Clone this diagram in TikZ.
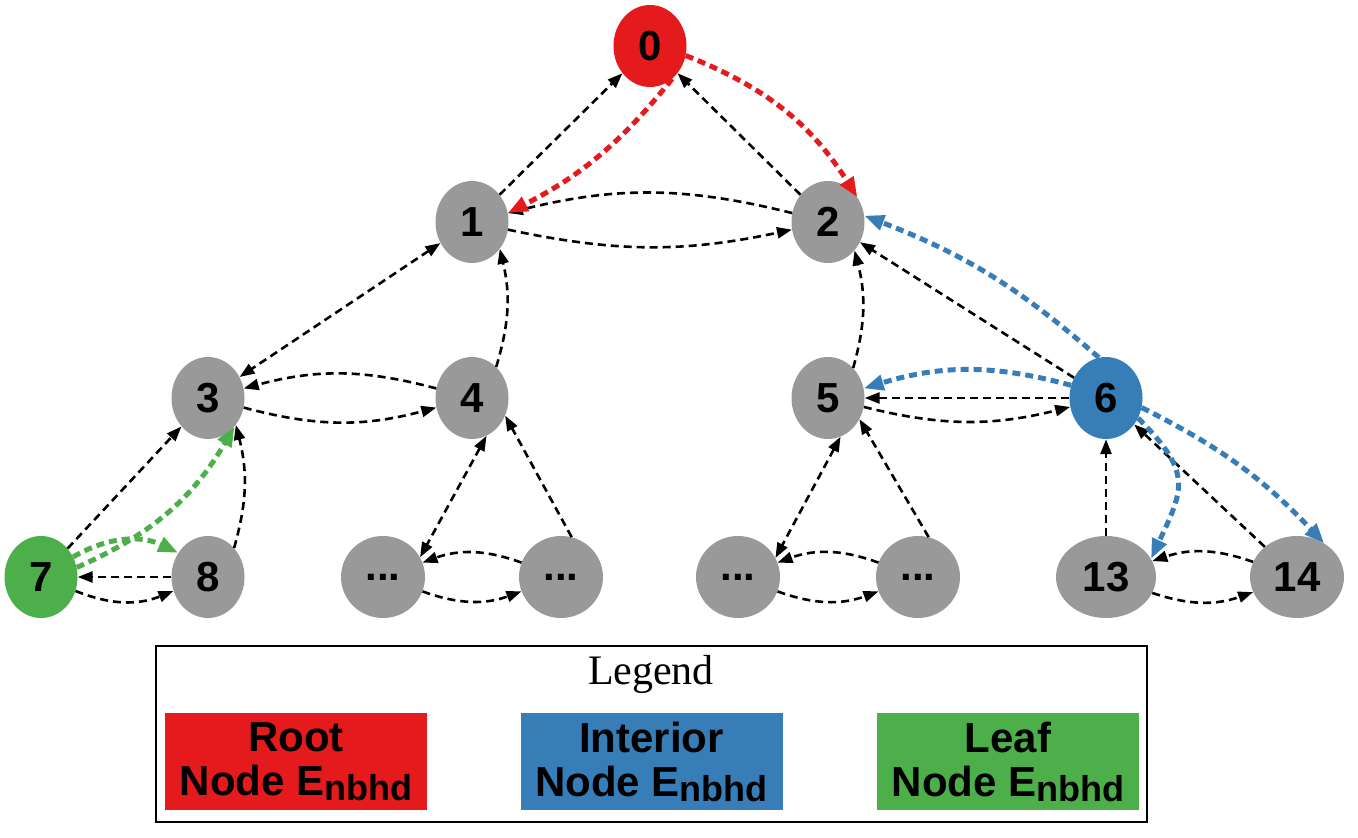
\documentclass[tikz,border=0pt]{standalone}
\usepackage{fontspec}
\setmainfont{Liberation Sans}
\newfontfamily\legendserif{Liberation Serif}
\usetikzlibrary{shapes.geometric, arrows.meta}
\definecolor{nbhdred}{HTML}{E41A1C}
\definecolor{nbhdblue}{HTML}{377EB8}
\definecolor{nbhdgreen}{HTML}{4DAF4A}
\definecolor{nbhdgray}{HTML}{999999}
\newcommand{\nbhdsub}{\raisebox{-5pt}{\fontsize{36}{36}\selectfont nbhd}}
\tikzstyle{treenode} = [ellipse, minimum width=73pt, minimum height=82pt, inner sep=0pt, fill=nbhdgray, font=\fontsize{42}{46}\selectfont\bfseries]
\tikzstyle{rootnode} = [treenode, fill=nbhdred]
\tikzstyle{interiornode} = [treenode, fill=nbhdblue]
\tikzstyle{leafnode} = [treenode, fill=nbhdgreen]
\tikzstyle{legendkey} = [rectangle, minimum width=262pt, minimum height=97pt, inner sep=0pt, align=center, font=\fontsize{42}{44}\selectfont\bfseries]
\tikzstyle{linkarrow} = [line width=2.6pt, dash pattern=on 8pt off 5pt, -{Triangle[length=15pt,width=11pt]}]
\tikzstyle{linkboth} = [linkarrow, {Triangle[length=15pt,width=11pt]}-{Triangle[length=15pt,width=11pt]}]
\tikzstyle{nbhdarrow} = [line width=5pt, dash pattern=on 8pt off 5pt, -{Triangle[length=20pt,width=15pt]}]

\begin{document}
\begin{tikzpicture}[x=1pt, y=1pt]
        \useasboundingbox (0,0) rectangle (1358,-838);
        % Tree nodes
        \node[rootnode] (n0) at (650,-46) {0};
        \node[treenode] (n1) at (472,-222) {1};
        \node[treenode] (n2) at (828,-222) {2};
        \node[treenode] (n3) at (208,-398) {3};
        \node[treenode] (n4) at (472,-398) {4};
        \node[treenode] (n5) at (828,-398) {5};
        \node[interiornode] (n6) at (1106,-398) {6};
        \node[leafnode] (n7) at (41,-577) {7};
        \node[treenode] (n8) at (208,-577) {8};
        \node[treenode, minimum width=84pt] (d1) at (383,-577) {...};
        \node[treenode, minimum width=84pt] (d2) at (561,-577) {...};
        \node[treenode, minimum width=84pt] (d3) at (738,-577) {...};
        \node[treenode, minimum width=84pt] (d4) at (918,-577) {...};
        \node[treenode, minimum width=100pt] (n13) at (1106,-577) {13};
        \node[treenode, minimum width=94pt] (n14) at (1297,-577) {14};

        % Tree links
        \draw[linkarrow] (n1) -- (n0);
        \draw[linkarrow] (n2) -- (n0);
        \draw[linkarrow] (n2) to[bend right=14] (n1);
        \draw[linkarrow] (n1) to[bend right=12] (n2);
        \draw[linkboth] (n1) -- (n3);
        \draw[linkarrow] (n4.52) to[bend right=15] (n1.-44);
        \draw[linkarrow] (n4) to[bend right=15] (n3);
        \draw[linkarrow] (n3) to[bend right=15] (n4);
        \draw[linkarrow] (n7) -- (n3);
        \draw[linkarrow] (n8.48) to[bend right=15] (n3.-44);
        \draw[linkarrow] (n8) -- (n7);
        \draw[linkarrow] (n7) to[bend right=22] (n8);
        \draw[linkboth] (n4.-69) -- (d1.28);
        \draw[linkarrow] (d2.75) -- (n4.-28);
        \draw[linkarrow] (d2) to[bend right=20] (d1);
        \draw[linkarrow] (d1) to[bend right=20] (d2);
        \draw[linkarrow] (n5.50) to[bend right=15] (n2.-47);
        \draw[linkarrow] (n6) -- (n2);
        \draw[linkarrow] (n6) -- (n5);
        \draw[linkarrow] (n5) to[bend right=14] (n6);
        \draw[linkboth] (n5.-72) -- (d3.27);
        \draw[linkarrow] (d4.75) -- (n5.-34);
        \draw[linkarrow] (d4) to[bend right=20] (d3);
        \draw[linkarrow] (d3) to[bend right=20] (d4);
        \draw[linkarrow] (n13) -- (n6);
        \draw[linkarrow] (n14) -- (n6);
        \draw[linkarrow] (n14) to[bend right=19] (n13);
        \draw[linkarrow] (n13) to[bend right=19] (n14);

        % Neighbourhood links
        \draw[nbhdarrow, nbhdred] (n0.-15) to[bend left=18] (n2.40);
        \draw[nbhdarrow, nbhdred] (n0.-56) to[bend left=12] (n1.14);
        \draw[nbhdarrow, nbhdblue] (n6.100) to[bend right=10] (n2.10);
        \draw[nbhdarrow, nbhdblue] (n6.160) to[bend right=16] (n5.15);
        \draw[nbhdarrow, nbhdblue] (n6.-32) to[out=-45, in=65, looseness=1.4] (n13.22);
        \draw[nbhdarrow, nbhdblue] (n6.-15) to[bend left=10] (n14.51);
        \draw[nbhdarrow, nbhdgreen] (n7.15) to[bend right=18] (n3.-47);
        \draw[nbhdarrow, nbhdgreen] (n7.32) to[bend left=28] (n8.141);

        % Legend
        \node[draw, line width=1.3pt, minimum width=991pt, minimum height=176pt, inner sep=0pt] (legendbox) at (651.5,-734) {};
        \node[anchor=base, font=\legendserif\fontsize{42}{44}\selectfont] (legendtitle) at (651,-684) {Legend};
        \node[legendkey, fill=nbhdred] (keyroot) at (296,-761.5) {Root\\Node E\nbhdsub};
        \node[legendkey, fill=nbhdblue] (keyinterior) at (651.5,-761.5) {Interior\\Node E\nbhdsub};
        \node[legendkey, fill=nbhdgreen] (keyleaf) at (1008,-761.5) {Leaf\\Node E\nbhdsub};
    \end{tikzpicture}
\end{document}
